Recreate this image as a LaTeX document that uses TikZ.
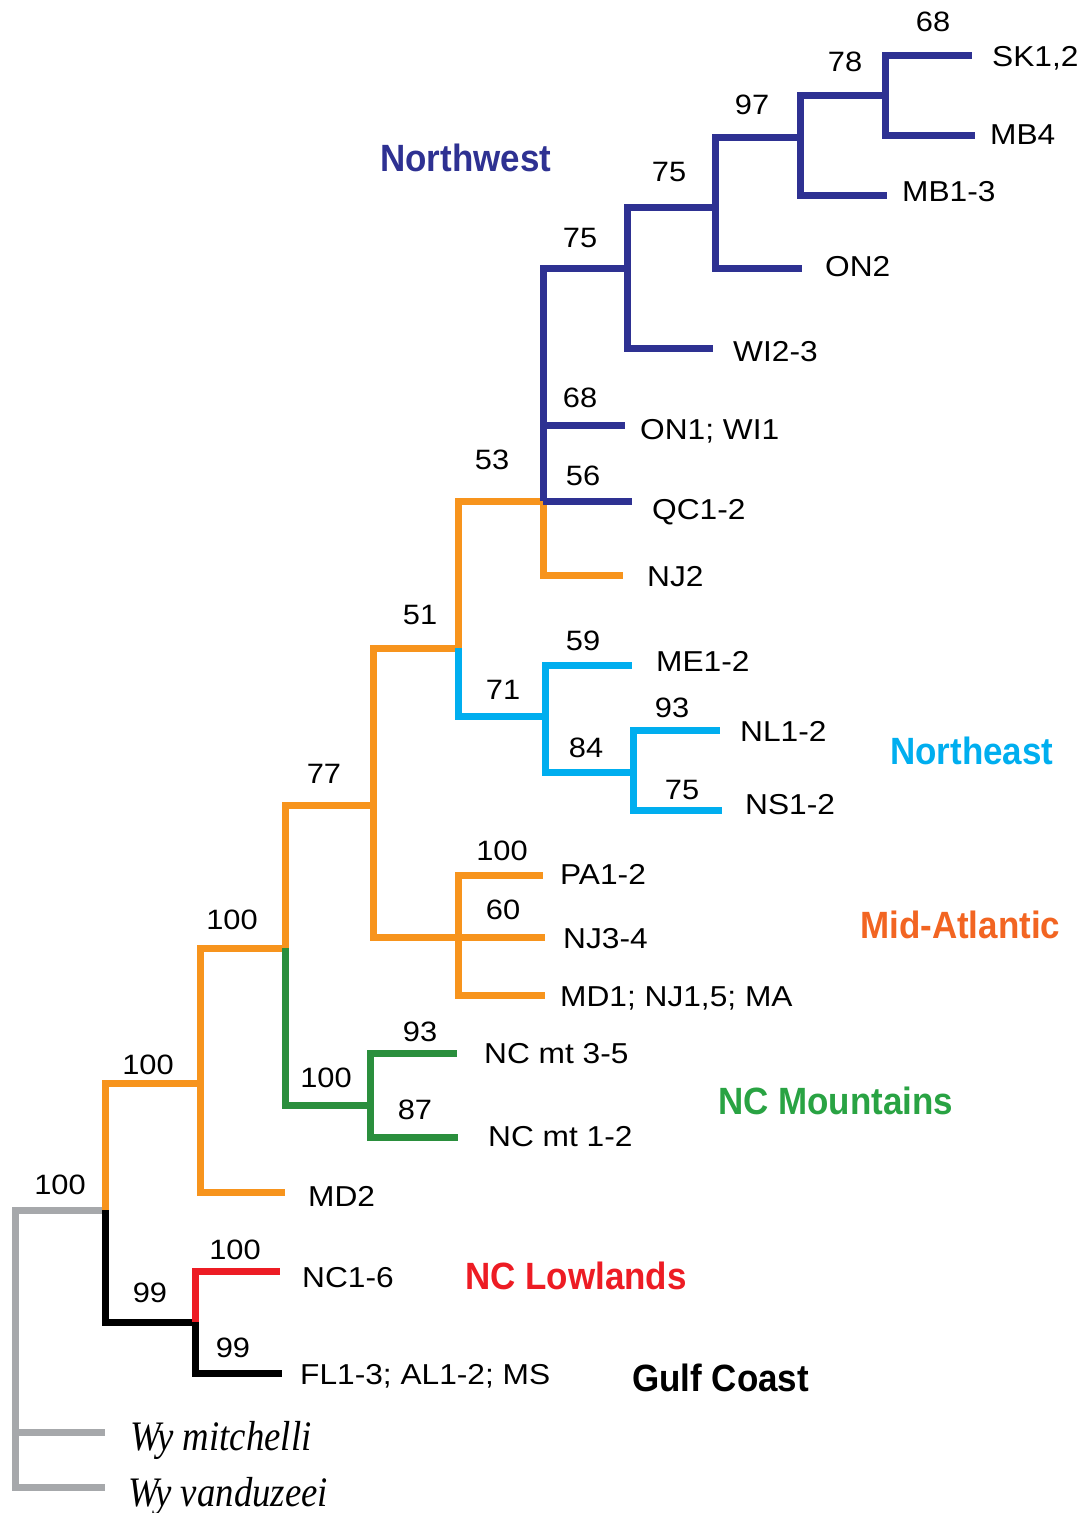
\documentclass[tikz,border=0pt]{standalone}
\usepackage{fontspec}
\newfontfamily\lblfont[FakeStretch=1.1]{Liberation Sans}
\newfontfamily\grpfont[FakeStretch=0.92]{Liberation Sans}
\newfontfamily\spfont[FakeStretch=0.875]{Liberation Serif}

\definecolor{cNW}{HTML}{2E3192}
\definecolor{cNE}{HTML}{00AEEF}
\definecolor{cOR}{HTML}{F7941D}
\definecolor{cMA}{HTML}{F26522}
\definecolor{cGRb}{HTML}{2A8F3D}
\definecolor{cGRt}{HTML}{29A343}
\definecolor{cRD}{HTML}{ED1C24}
\definecolor{cGY}{HTML}{A6A8AB}

\tikzset{
  branch/.style={line width=7pt, line join=miter},
  tiplabel/.style={anchor=base west, inner sep=0pt, font=\lblfont\fontsize{28.8}{30}\selectfont},
  support/.style={anchor=center, inner sep=0pt, font=\lblfont\fontsize{28}{30}\selectfont},
  grouplabel/.style={anchor=west, inner sep=0pt, font=\grpfont\bfseries\fontsize{38}{40}\selectfont},
  specieslabel/.style={anchor=base west, inner sep=0pt, font=\spfont\itshape\fontsize{42}{44}\selectfont}
}

\begin{document}
\begin{tikzpicture}[x=1pt,y=-1pt]
\useasboundingbox (0,0) rectangle (1086,1513);

% internal nodes of the tree
\coordinate (root) at (15,1210);
\coordinate (ing)  at (105,1210);
\coordinate (gcn)  at (195,1322);
\coordinate (na)   at (200,1083);
\coordinate (nb)   at (285,948);
\coordinate (ncm)  at (370,1105);
\coordinate (nc)   at (373,805);
\coordinate (nma)  at (458,937);
\coordinate (nd)   at (458,648);
\coordinate (nne)  at (545,716);
\coordinate (nf)   at (633,772);
\coordinate (ne)   at (543,501);
\coordinate (ng)   at (627,268);
\coordinate (nh)   at (715,207);
\coordinate (ni)   at (800,137);
\coordinate (nj)   at (885,95);

% branch tips
\coordinate (tSK)    at (972,55);
\coordinate (tMBf)   at (975,135);
\coordinate (tMBa)   at (887,195);
\coordinate (tONb)   at (802,268);
\coordinate (tWIb)   at (713,348);
\coordinate (tONa)   at (625,425);
\coordinate (tQC)    at (632,501);
\coordinate (tNJb)   at (623,575);
\coordinate (tME)    at (632,665);
\coordinate (tNL)    at (720,730);
\coordinate (tNS)    at (722,810);
\coordinate (tPA)    at (543,875);
\coordinate (tNJc)   at (545,937);
\coordinate (tMDa)   at (545,995);
\coordinate (tNCmb)  at (457,1053);
\coordinate (tNCma)  at (458,1137);
\coordinate (tMDb)   at (285,1192);
\coordinate (tNCl)   at (280,1271);
\coordinate (tFL)    at (282,1373);
\coordinate (tWm)    at (105,1432);
\coordinate (tWv)    at (105,1487);

% outgroup (grey)
\draw[branch, cGY] (ing) -- (root) |- (tWv);
\draw[branch, cGY] (root) |- (tWm);

% Gulf Coast and NC Lowlands
\draw[branch, black] (ing) |- (gcn);
\draw[branch, black] (gcn) |- (tFL);
\draw[branch, cRD] (gcn) |- (tNCl);

% Mid-Atlantic backbone (orange)
\draw[branch, cOR] (ing) |- (na);
\draw[branch, cOR] (na) |- (tMDb);
\draw[branch, cOR] (na) |- (nb);
\draw[branch, cOR] (nb) |- (nc);
\draw[branch, cOR] (nc) |- (nma);
\draw[branch, cOR] (nma) |- (tPA);
\draw[branch, cOR] (nma) -- (tNJc);
\draw[branch, cOR] (nma) |- (tMDa);
\draw[branch, cOR] (nc) |- (nd);
\draw[branch, cOR] (nd) |- (ne);
\draw[branch, cOR] (ne) |- (tNJb);

% NC Mountains (green)
\draw[branch, cGRb] (nb) |- (ncm);
\draw[branch, cGRb] (ncm) |- (tNCmb);
\draw[branch, cGRb] (ncm) |- (tNCma);

% Northeast (light blue)
\draw[branch, cNE] (nd) |- (nne);
\draw[branch, cNE] (nne) |- (tME);
\draw[branch, cNE] (nne) |- (nf);
\draw[branch, cNE] (nf) |- (tNL);
\draw[branch, cNE] (nf) |- (tNS);

% Northwest (dark blue)
\draw[branch, cNW] (ne) -- (tQC);
\draw[branch, cNW] (ne) |- (tONa);
\draw[branch, cNW] (ne) |- (ng);
\draw[branch, cNW] (ng) |- (tWIb);
\draw[branch, cNW] (ng) |- (nh);
\draw[branch, cNW] (nh) |- (tONb);
\draw[branch, cNW] (nh) |- (ni);
\draw[branch, cNW] (ni) |- (tMBa);
\draw[branch, cNW] (ni) |- (nj);
\draw[branch, cNW] (nj) |- (tSK);
\draw[branch, cNW] (nj) |- (tMBf);

% tip labels
\node[tiplabel] (lSK)   at (992,66)   {SK1,2};
\node[tiplabel] (lMBf)  at (990,144)  {MB4};
\node[tiplabel] (lMBa)  at (902,201)  {MB1-3};
\node[tiplabel] (lONb)  at (825,276)  {ON2};
\node[tiplabel] (lWIb)  at (733,361)  {WI2-3};
\node[tiplabel] (lONa)  at (640,439)  {ON1; WI1};
\node[tiplabel] (lQC)   at (652,519)  {QC1-2};
\node[tiplabel] (lNJb)  at (647,586)  {NJ2};
\node[tiplabel] (lME)   at (656,671)  {ME1-2};
\node[tiplabel] (lNL)   at (740,741)  {NL1-2};
\node[tiplabel] (lNS)   at (745,814)  {NS1-2};
\node[tiplabel] (lPA)   at (560,884)  {PA1-2};
\node[tiplabel] (lNJc)  at (563,948)  {NJ3-4};
\node[tiplabel] (lMDa)  at (560,1006) {MD1; NJ1,5; MA};
\node[tiplabel] (lNCmb) at (484,1063) {NC mt 3-5};
\node[tiplabel] (lNCma) at (488,1146) {NC mt 1-2};
\node[tiplabel] (lMDb)  at (308,1206) {MD2};
\node[tiplabel] (lNCl)  at (302,1287) {NC1-6};
\node[tiplabel] (lFL)   at (300,1384) {FL1-3; AL1-2; MS};
\node[specieslabel] (lWm) at (130,1450) {Wy mitchelli};
\node[specieslabel] (lWv) at (128,1506) {Wy vanduzeei};

% bootstrap support values
\node[support] (sj)   at (933,22)   {68};
\node[support] (si)   at (845,62)   {78};
\node[support] (sh)   at (752,105)  {97};
\node[support] (sg2)  at (669,172)  {75};
\node[support] (sg)   at (580,238)  {75};
\node[support] (sONa) at (580,398)  {68};
\node[support] (sQC)  at (583,476)  {56};
\node[support] (se)   at (492,460)  {53};
\node[support] (sd)   at (420,615)  {51};
\node[support] (sne)  at (503,690)  {71};
\node[support] (sME)  at (583,641)  {59};
\node[support] (sNL)  at (672,708)  {93};
\node[support] (sf)   at (586,748)  {84};
\node[support] (sNS)  at (682,790)  {75};
\node[support] (sc)   at (324,774)  {77};
\node[support] (sPA)  at (502,851)  {100};
\node[support] (sNJc) at (503,910)  {60};
\node[support] (snb)  at (232,920)  {100};
\node[support] (sna)  at (148,1065) {100};
\node[support] (sNCb) at (420,1032) {93};
\node[support] (sncm) at (326,1078) {100};
\node[support] (sNCa) at (415,1110) {87};
\node[support] (sing) at (60,1185)  {100};
\node[support] (sNCl) at (235,1250) {100};
\node[support] (sgcn) at (150,1293) {99};
\node[support] (sFL)  at (233,1348) {99};

% clade names
\node[grouplabel, text=cNW]  (gNW) at (380,158)  {Northwest};
\node[grouplabel, text=cNE]  (gNE) at (890,751)  {Northeast};
\node[grouplabel, text=cMA]  (gMA) at (860,925)  {Mid-Atlantic};
\node[grouplabel, text=cGRt] (gNC) at (718,1101) {NC Mountains};
\node[grouplabel, text=cRD]  (gNL) at (465,1276) {NC Lowlands};
\node[grouplabel, text=black](gGC) at (632,1378) {Gulf Coast};
\end{tikzpicture}
\end{document}
